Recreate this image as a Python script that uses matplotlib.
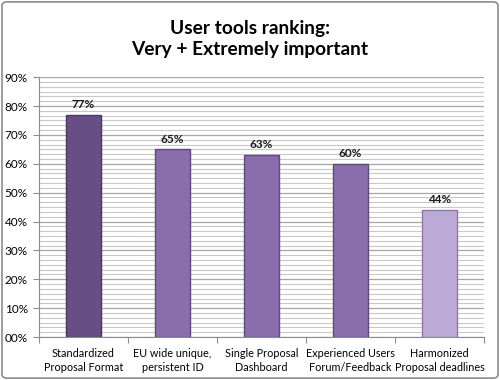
import matplotlib
matplotlib.use("Agg")
import matplotlib.pyplot as plt
import numpy as np
from matplotlib.patches import FancyBboxPatch
from matplotlib.ticker import MultipleLocator, FixedLocator

categories = ["Standardized\nProposal Format", "EU wide unique,\npersistent ID",
              "Single Proposal\nDashboard", "Experienced Users\nForum/Feedback",
              "Harmonized\nProposal deadlines"]
values = [77, 65, 63, 60, 44]
bar_colors = ["#674F86", "#896DAD", "#896DAD", "#896DAD", "#BBA9D6"]
edge_colors = ["#4A3862", "#5E4A7C", "#5E4A7C", "#5E4A7C", "#8C7AA8"]
ytick_labels = ["00%", "10%", "20%", "30%", "40%", "50%", "60%", "70%", "80%", "90%"]

plt.rcParams['font.family'] = ['Lato', 'DejaVu Sans']

fig = plt.figure(figsize=(5, 3.8), dpi=100)
fig.patches.append(FancyBboxPatch((0.004, 0.005), 0.992, 0.99, boxstyle="round,pad=0,rounding_size=0.01",
                                  transform=fig.transFigure, fill=False, edgecolor="#8C8C8C", linewidth=1.2))

ax = fig.add_axes([0.078, 0.113, 0.89, 0.684])
x = np.arange(len(values))
ax.bar(x, values, width=0.39, color=bar_colors, edgecolor=edge_colors, linewidth=1.0, zorder=3)

for xi, v in zip(x, values):
    ax.text(xi, v + 1.6, f"{v}%", ha="center", va="bottom", fontsize=8.5, fontweight="bold", color="#1a1a1a")

ax.set_xlim(-0.5, len(values) - 0.5)
ax.set_ylim(0, 90)
ax.yaxis.set_major_locator(MultipleLocator(10))
ax.yaxis.set_minor_locator(MultipleLocator(10 / 6))
ax.set_yticks(np.arange(0, 91, 10))
ax.set_yticklabels(ytick_labels, fontsize=8.5)
ax.grid(axis="y", which="major", color="#A6A6A6", linewidth=0.9, zorder=0)
ax.grid(axis="y", which="minor", color="#C8C8C8", linewidth=0.8, zorder=0)

ax.xaxis.set_major_locator(FixedLocator(np.arange(-0.5, len(values), 1.0)))
ax.xaxis.set_minor_locator(FixedLocator(x))
ax.set_xticklabels([""] * (len(values) + 1))
ax.set_xticklabels(categories, minor=True, fontsize=7.8)
ax.tick_params(axis="x", which="major", length=4, color="#8C8C8C")
ax.tick_params(axis="x", which="minor", length=0, pad=8)
ax.tick_params(axis="y", which="major", length=4, color="#8C8C8C", pad=4)
ax.tick_params(axis="y", which="minor", length=0)
for lbl in ax.get_xticklabels(minor=True):
    lbl.set_linespacing(1.35)

for s in ["top", "right"]:
    ax.spines[s].set_visible(False)
for s in ["left", "bottom"]:
    ax.spines[s].set_color("#8C8C8C")

fig.text(0.5, 0.898, "User tools ranking:\nVery + Extremely important", ha="center", va="center",
         fontsize=13.8, fontweight="bold", linespacing=1.3)

fig.savefig("out.png", dpi=100)
